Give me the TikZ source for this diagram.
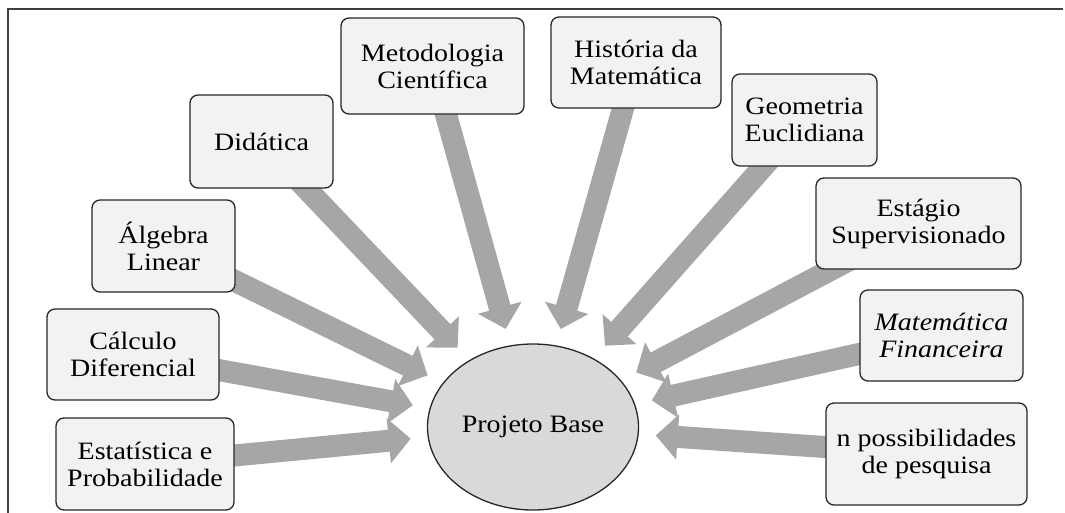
\documentclass[tikz,border=0pt]{standalone}
\usepackage{fontspec}
\setmainfont{Liberation Serif}[FakeStretch=1.12]
\usetikzlibrary{arrows.meta,shapes.geometric,backgrounds}
\definecolor{boxfill}{HTML}{F2F2F2}
\definecolor{ellfill}{HTML}{D9D9D9}
\definecolor{arrgray}{HTML}{A6A6A6}
\definecolor{framecol}{HTML}{3F3F3F}
\definecolor{edgecol}{HTML}{262626}
\begin{document}
\begin{tikzpicture}[x=1pt,y=-1pt,
  topic/.style={draw=edgecol, line width=1.3pt, fill=boxfill, rounded corners=8pt,
    align=center, inner sep=0pt, font=\fontsize{25}{27}\selectfont},
  hub/.style={draw=edgecol, line width=1.3pt, fill=ellfill, ellipse, inner sep=0pt,
    align=center, font=\fontsize{25}{27}\selectfont},
  bigarrow/.style={draw=arrgray, line width=22pt,
    -{Triangle[length=22pt,width=44pt]}, shorten >=17pt}]
\useasboundingbox (0,0) rectangle (1065,512);
\draw[framecol, line width=2pt] (8,513) -- (8,9) -- (1063,9);

\node[topic, minimum width=183pt, minimum height=96pt] (metod) at (432.5,66) {Metodologia\\Científica};
\node[topic, minimum width=170pt, minimum height=91pt] (hist) at (636,62.5) {História da\\Matemática};
\node[topic, minimum width=145pt, minimum height=92pt] (geom) at (804.5,120) {Geometria\\Euclidiana};
\node[topic, minimum width=205pt, minimum height=91pt] (estag) at (918.5,223.5) {Estágio\\Supervisionado};
\node[topic, minimum width=163pt, minimum height=91pt] (matfin) at (941.5,335.5) {\itshape Matemática\\\itshape Financeira};
\node[topic, minimum width=201pt, minimum height=102pt] (npos) at (926.5,454) {n possibilidades\\de pesquisa};
\node[topic, minimum width=143pt, minimum height=93pt] (didat) at (261.5,141.5) {Didática};
\node[topic, minimum width=143pt, minimum height=92pt] (alg) at (163.5,246) {Álgebra\\Linear};
\node[topic, minimum width=172pt, minimum height=91pt] (calc) at (133,354.5) {Cálculo\\Diferencial};
\node[topic, minimum width=178pt, minimum height=92pt] (estat) at (145,464) {Estatística e\\Probabilidade};
\node[hub, minimum width=211pt, minimum height=166pt] (base) at (533,427) {Projeto Base};

\begin{scope}[on background layer]
\foreach \n in {metod,hist,geom,estag,matfin,npos,didat,alg,calc,estat}
  \draw[bigarrow] (\n.center) -- (base);
\end{scope}
\end{tikzpicture}
\end{document}
